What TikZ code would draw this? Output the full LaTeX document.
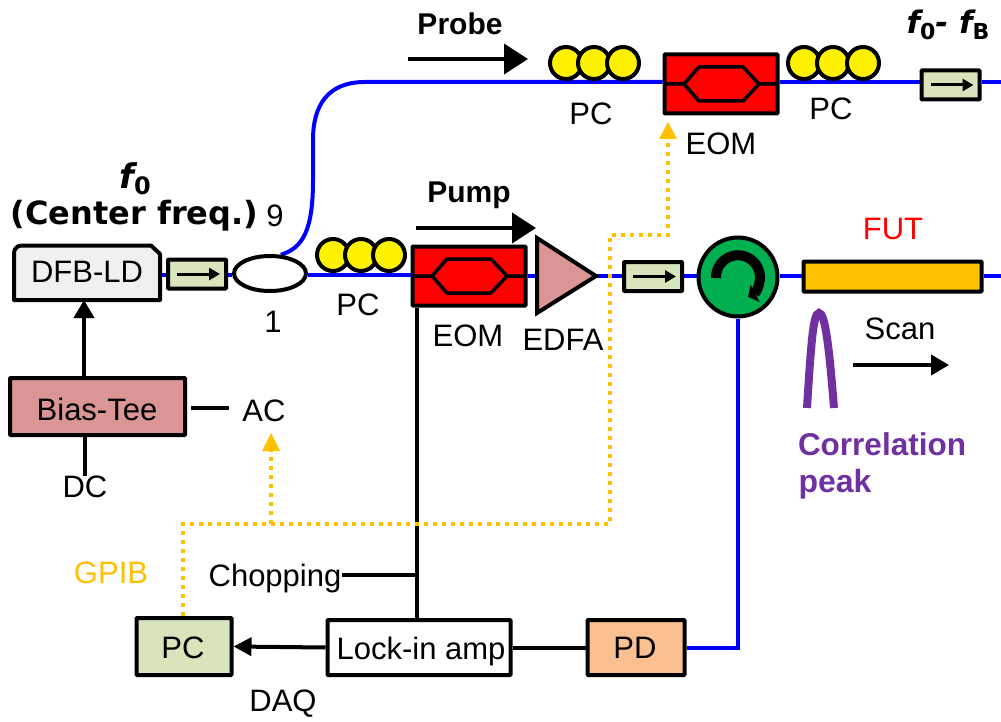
\documentclass[tikz,border=0pt]{standalone}
\usepackage{fontspec}
\setmainfont{Liberation Sans}
\newfontfamily\wideb{DejaVu Sans}
\usetikzlibrary{shapes.geometric,arrows.meta,backgrounds}
\definecolor{fibre}{HTML}{0000FF}
\definecolor{goldc}{HTML}{FFC000}
\definecolor{isoc}{HTML}{D8E4BC}
\definecolor{rosec}{HTML}{D99694}
\definecolor{peachc}{HTML}{FAC090}
\definecolor{greenc}{HTML}{00B050}
\definecolor{purplec}{HTML}{7030A0}
\tikzset{
  lab/.style={inner sep=0pt,font=\fontsize{31}{33}\selectfont},
  blab/.style={inner sep=0pt,font=\fontsize{30}{32}\selectfont\bfseries},
  box/.style={draw=black,line width=4pt,inner sep=0pt,rectangle,rounded corners=0.8pt},
  isolator/.style={box,fill=isoc,minimum width=58pt,minimum height=29pt},
  eombox/.style={box,fill=red,minimum width=113pt,minimum height=59pt},
  pcring/.style={circle,draw=black,line width=4pt,fill=yellow,minimum size=32pt,inner sep=0pt},
  fibreline/.style={draw=fibre,line width=4pt},
  wire/.style={draw=black,line width=4pt},
  gpib/.style={draw=goldc,line width=4pt,dash pattern=on 4pt off 5pt},
  bigtip/.style={-{Triangle[length=24pt,width=30pt]}},
  midtip/.style={-{Triangle[length=18pt,width=20pt]}},
  smalltip/.style={-{Triangle[length=11pt,width=12pt]}},
}
\newcommand{\eominner}[1]{%
  \draw[black,line width=3.5pt,line join=round] ([xshift=-37pt]#1.center) -- ++(-20pt,0)
    ([xshift=-37pt]#1.center) -- ++(15pt,-17pt) -- ++(44pt,0) -- ++(16pt,17pt) -- ++(-16pt,17pt) -- ++(-44pt,0) -- cycle
    ([xshift=38pt]#1.center) -- ++(20pt,0);}
\newcommand{\isoinner}[1]{%
  \draw[black,line width=3pt,smalltip] ([xshift=-20pt]#1.center) -- ([xshift=23pt]#1.center);}
\begin{document}
\begin{tikzpicture}[x=1pt,y=-1pt]
\useasboundingbox (0,0) rectangle (1001,722);

% components
\node[isolator] (iso1) at (197,274) {};
\node[ellipse,draw=black,line width=4pt,fill=white,minimum width=72pt,minimum height=35pt,inner sep=0pt] (coup) at (270,273.5) {};
\node[pcring] (a1) at (333,255) {};
\node[pcring] (a2) at (361,255) {};
\node[pcring] (a3) at (389,255) {};
\node[eombox] (eom1) at (469,276) {};
\node[isolator] (iso2) at (653,276.5) {};
\node[circle,draw=black,line width=4pt,fill=greenc,minimum size=79pt,inner sep=0pt] (circ) at (738,277) {};
\node[box,fill=goldc,minimum width=178pt,minimum height=30pt] (fut) at (892.5,276.5) {};
\node[pcring] (b1) at (566,63) {};
\node[pcring] (b2) at (594,63) {};
\node[pcring] (b3) at (623,63) {};
\node[eombox] (eom2) at (721,84) {};
\node[pcring] (c1) at (804,63) {};
\node[pcring] (c2) at (833,63) {};
\node[pcring] (c3) at (863,63) {};
\node[isolator] (iso3) at (950.5,85) {};
\node[box,fill=rosec,minimum width=175pt,minimum height=57pt] (bias) at (97.5,406.5) {};
\node[box,fill=isoc,minimum width=95pt,minimum height=57pt] (pc) at (184,646.5) {};
\node[box,fill=white,minimum width=183pt,minimum height=55pt] (lock) at (419,647.5) {};
\node[box,fill=peachc,minimum width=97pt,minimum height=55pt] (pd) at (636,647.5) {};
\coordinate (edfaw) at (537,276);
\coordinate (edfae) at (596,276);
\coordinate (endA) at (1001,276);
\coordinate (endB) at (1001,82);

% DFB-LD body
\draw[black,line width=4pt,fill=black!6,line join=round] (14,300) -- (14,253) arc[start angle=180,delta angle=90,radius=7.5] -- (151,245.5) -- (160,254) -- (160,300) -- cycle;
\node[lab,text=black] (dfb) at (87,272) {DFB-LD};
\coordinate (dfbe) at (160,275);
\coordinate (dfbs) at (84,300);

% EDFA
\draw[black,line width=4pt,fill=rosec,line join=miter] (edfaw |- 0,238) -- (edfae) -- (edfaw |- 0,313) -- cycle;

% fibres
\begin{scope}[on background layer]
\draw[fibreline] (dfbe) -- (iso1.west |- dfbe);
\draw[fibreline] (iso1.east |- dfbe) -- (coup.west |- dfbe);
\draw[fibreline] (coup.east |- dfbe) -- (eom1.west |- dfbe);
\draw[fibreline] (eom1.east |- endA) -- (edfaw);
\draw[fibreline] (edfae) -- (iso2.west |- endA);
\draw[fibreline] (iso2.east |- endA) -- (circ.west |- endA);
\draw[fibreline] (circ.east |- endA) -- (fut.west |- endA);
\draw[fibreline] (fut.east |- endA) -- (endA);
\draw[fibreline] (coup.60) .. controls (303,248) and (313,230) .. (313,180) -- (313,140) .. controls (313,105) and (328,82) .. (365,82) -- (eom2.west |- endB);
\draw[fibreline] (eom2.east |- endB) -- (iso3.west |- endB);
\draw[fibreline] (iso3.east |- endB) -- (endB);
\draw[fibreline] (pd.east) -- (circ.south |- pd.east) -- (circ.south);
\end{scope}

\eominner{eom1}
\eominner{eom2}
\isoinner{iso1}
\isoinner{iso2}
\isoinner{iso3}

% circulator arrow
\draw[black,line width=10pt,-{Triangle[length=8pt,width=19pt]}] (716,278) arc[start angle=178,delta angle=245,radius=22];

% free arrows
\coordinate (pr1) at (408,59); \coordinate (pr2) at (528,59);
\coordinate (pu1) at (416,228); \coordinate (pu2) at (536,228);
\coordinate (sc1) at (853,365); \coordinate (sc2) at (949,365);
\draw[wire,bigtip] (pr1) -- (pr2);
\draw[wire,bigtip] (pu1) -- (pu2);
\draw[wire,midtip] (sc1) -- (sc2);

% electrical
\draw[wire,midtip] (bias.north -| dfbs) -- (dfbs);
\node[lab] (ac) at (264,411) {AC};
\node[lab] (dc) at (85,487) {DC};
\node[lab] (chop) at (275,578) {Chopping};
\coordinate (tj) at (417,575);
\coordinate (acw1) at (191,408);
\coordinate (acw2) at (229,408);
\draw[wire] (acw1) -- (acw2);
\draw[wire] (dc.north) -- (dc.north |- bias.south);
\draw[wire] (eom1.south -| tj) -- (lock.north -| tj);
\draw[wire] (chop.east |- tj) -- (tj);
\draw[wire,-{Triangle[length=18pt,width=18pt]}] (lock.west) -- (pc.east);
\draw[wire] (pd.west) -- (lock.east);

% GPIB
\coordinate (gj) at (271,524);
\coordinate (acb) at (271,433);
\coordinate (eomb) at (668,122);
\draw[gpib] (pc.north -| 183,0) -- (183,524) -- (610,524) -- (610,235) -- (668,235) -- (668,140);
\draw[gpib] (gj) -- (271,450);
\fill[goldc] (271,433) -- (280,451) -- (262,451) -- cycle;
\fill[goldc] (eomb) -- (677,139) -- (659,139) -- cycle;

% correlation peak
\draw[purplec,line width=8pt] (807,408) .. controls (811,345) and (813,313) .. (819,313) .. controls (825,313) and (829,345) .. (834,408);

% labels
\node[blab] at (460,24) {Probe};
\node[blab] at (469,195) {Pump};
\node[lab] at (591,114) {PC};
\node[lab] at (721,144) {EOM};
\node[lab] at (831,109) {PC};
\node[lab] at (358,305) {PC};
\node[lab] at (468,336) {EOM};
\node[lab] at (563,340) {EDFA};
\node[lab] at (275,216) {9};
\node[lab] at (273,322) {1};
\node[lab,text=red] at (893,229) {FUT};
\node[lab] at (900,329) {Scan};
\node[lab,text=goldc] at (111,573) {GPIB};
\node[lab] at (183,648) {PC};
\node[lab] at (421,651) {Lock-in amp};
\node[lab] at (635,648) {PD};
\node[lab] at (97,409) {Bias-Tee};
\node[lab] at (283,704) {DAQ};
\node[blab,text=purplec,font=\fontsize{31.5}{34}\selectfont\bfseries] at (882,444) {Correlation};
\node[blab,text=purplec,font=\fontsize{32}{34}\selectfont\bfseries] at (835,484) {peak};
\node[inner sep=0pt,font=\fontsize{32}{34}\selectfont\wideb\bfseries] at (134.5,216) {(Center freq.)};
\node[inner sep=0pt,font=\fontsize{34}{36}\selectfont\wideb\bfseries\itshape] at (135,179) {f\raisebox{-6pt}{\fontsize{24}{24}\selectfont\upshape 0}};
\node[inner sep=0pt,font=\fontsize{31}{33}\selectfont\wideb\bfseries\itshape] at (948,25) {f\raisebox{-6pt}{\fontsize{22}{22}\selectfont\upshape 0}- f\raisebox{-6pt}{\fontsize{22}{22}\selectfont\upshape B}};
\end{tikzpicture}
\end{document}
